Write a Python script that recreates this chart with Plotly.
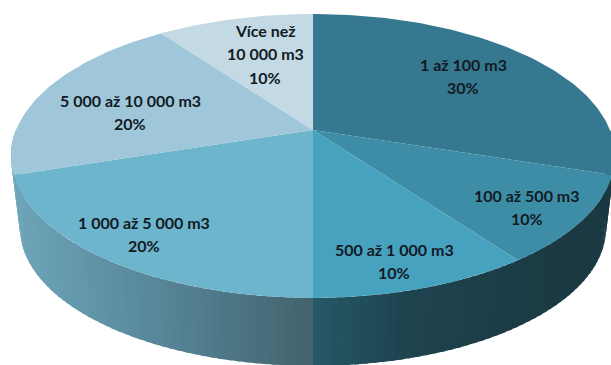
import math
import plotly.graph_objects as go

categories = ["1 až 100 m3", "100 až 500 m3", "500 až 1 000 m3",
              "1 000 až 5 000 m3", "5 000 až 10 000 m3", "Více než|10 000 m3"]
values = [30, 10, 10, 20, 20, 10]
top_colors = ["#35788F", "#3E8DA6", "#46A2BE", "#6DB4CD", "#9FC7D9", "#C3D9E3"]
label_x = [463, 527, 394, 144, 130, 265]
label_y = [64.5, 195.5, 249.5, 222.5, 100.5, 30.5]
LINE_GAP = 23.3

# side shading: (pixel x, rgb) stops per slice
side_stops = [
    [(560, (26, 56, 65)), (620, (26, 56, 65))],
    [(510, (27, 60, 70)), (620, (26, 56, 65))],
    [(313, (37, 88, 102)), (400, (30, 68, 80)), (515, (28, 60, 70))],
    [(15, (110, 165, 185)), (150, (88, 136, 154)), (313, (66, 98, 110))],
    [(0, (110, 165, 185)), (30, (110, 165, 185))],
]

CX, CY, A, B, P = 313, 130, 297, 137.2, 0.183
S, CY2 = 0.97, 203


def top_pt(t):
    u, v = math.sin(t), math.cos(t)
    w = 1 + P * v
    return CX + A * u / w, CY - B * v / w


def bot_pt(t):
    u, v = math.sin(t), math.cos(t)
    w = 1 + P * v
    return CX + S * A * u / w, CY2 - S * B * v / w


def shade(stops, x):
    if x <= stops[0][0]:
        c = stops[0][1]
    elif x >= stops[-1][0]:
        c = stops[-1][1]
    else:
        for (x0, c0), (x1, c1) in zip(stops, stops[1:]):
            if x0 <= x <= x1:
                f = (x - x0) / (x1 - x0)
                c = tuple(a + (b - a) * f for a, b in zip(c0, c1))
                break
    return "rgb(%d,%d,%d)" % tuple(round(k) for k in c)


total = sum(values)
edges = [0]
for val in values:
    edges.append(edges[-1] + val / total * 360)

fig = go.Figure()


def poly(xs, ys, color):
    fig.add_trace(go.Scatter(x=xs, y=ys, mode="lines", fill="toself", fillcolor=color,
                             line=dict(width=0), hoverinfo="skip", showlegend=False))


# sides
for i, stops in enumerate(side_stops):
    lo = max(edges[i], 90)
    hi = min(edges[i + 1], 270)
    if hi <= lo:
        continue
    n = max(1, int((hi - lo) / 1.5))
    for k in range(n):
        a0 = math.radians(lo + (hi - lo) * k / n)
        a1 = math.radians(lo + (hi - lo) * (k + 1.5) / n)
        p = [top_pt(a0), top_pt(a1), bot_pt(a1), bot_pt(a0)]
        xm = sum(q[0] for q in p) / 4
        poly([q[0] for q in p] + [p[0][0]], [q[1] for q in p] + [p[0][1]], shade(stops, xm))

# top faces
for i, col in enumerate(top_colors):
    n = max(2, int(edges[i + 1] - edges[i]))
    pts = [(CX, CY)] + [top_pt(math.radians(edges[i] + (edges[i + 1] - edges[i]) * k / n)) for k in range(n + 1)]
    pts.append((CX, CY))
    poly([q[0] for q in pts], [q[1] for q in pts], col)

for cat, val, lx, ly in zip(categories, values, label_x, label_y):
    for j, line in enumerate(cat.split("|") + [f"{val}%"]):
        fig.add_annotation(x=lx, y=ly + j * LINE_GAP, text=f"<b>{line}</b>", showarrow=False,
                           font=dict(family="Lato", size=16, color="#121a24"), align="center")

fig.update_layout(width=611, height=365, margin=dict(l=0, r=0, t=0, b=0),
                  paper_bgcolor="white", plot_bgcolor="white", showlegend=False,
                  xaxis=dict(range=[0, 611], visible=False, fixedrange=True),
                  yaxis=dict(range=[365, 0], visible=False, fixedrange=True))
fig.write_html("out.html", config=dict(displayModeBar=False),
               post_script="document.body.style.margin='0';document.body.style.overflow='hidden';")
